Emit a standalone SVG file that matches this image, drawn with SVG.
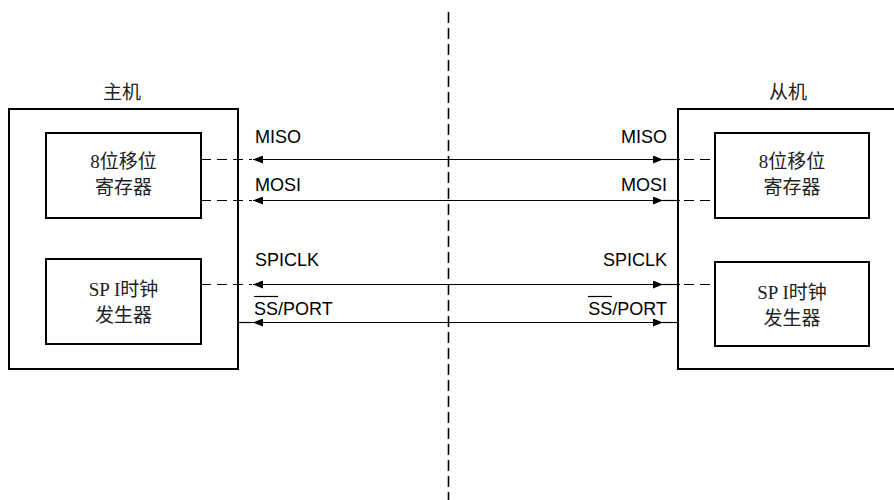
<svg xmlns="http://www.w3.org/2000/svg" width="894" height="500" viewBox="0 0 894 500">
<style>
.box{fill:none;stroke:#000;stroke-width:2}
.cn{font-family:"Liberation Serif","Noto Sans CJK SC",serif;font-size:19px;fill:#222;text-anchor:middle}
.lbl{font-family:"Liberation Sans",Arial,sans-serif;font-size:18px;fill:#000}
.solid{stroke:#000;stroke-width:1.2;fill:none}
.dash{stroke:#000;stroke-width:1.2;fill:none;stroke-dasharray:10 6}
</style>
<defs>
<marker id="arr" viewBox="0 0 10 8" refX="10" refY="4" markerWidth="10" markerHeight="8" markerUnits="userSpaceOnUse" orient="auto-start-reverse">
<path d="M0,0 L10,4 L0,8 z" fill="#000"/>
</marker>
</defs>
<line x1="448.5" y1="12" x2="448.5" y2="500" stroke="#000" stroke-width="1.6" stroke-dasharray="11 5"/>
<g id="master">
<text class="cn" x="122" y="99">主机</text>
<rect class="box" x="9" y="109" width="229" height="260"/>
</g>
<g id="master-shift">
<rect class="box" x="46" y="133" width="155" height="85"/>
<text class="cn" x="123.5" y="168">8位移位</text>
<text class="cn" x="123.5" y="194">寄存器</text>
</g>
<g id="master-clock">
<rect class="box" x="46" y="259" width="155" height="85"/>
<text class="cn" x="123.5" y="296">SP I时钟</text>
<text class="cn" x="123.5" y="322">发生器</text>
</g>
<g id="slave">
<text class="cn" x="788" y="99">从机</text>
<rect class="box" x="678" y="109" width="230" height="260"/>
</g>
<g id="slave-shift">
<rect class="box" x="715" y="133" width="154" height="85"/>
<text class="cn" x="792" y="168">8位移位</text>
<text class="cn" x="792" y="194">寄存器</text>
</g>
<g id="slave-clock">
<rect class="box" x="715" y="262" width="154" height="84"/>
<text class="cn" x="792" y="299">SP I时钟</text>
<text class="cn" x="792" y="325">发生器</text>
</g>
<g id="connectors">
<path class="dash" d="M201,159.5 H252"/>
<path class="solid" d="M253,159.5 H663" marker-start="url(#arr)" marker-end="url(#arr)"/>
<path class="solid" d="M663,159.5 H680"/>
<path class="dash" d="M684,159.5 H715"/>
<text class="lbl" x="255" y="143">MISO</text>
<text class="lbl" x="667" y="143" text-anchor="end">MISO</text>

<path class="dash" d="M201,200.5 H252"/>
<path class="solid" d="M253,200.5 H663" marker-start="url(#arr)" marker-end="url(#arr)"/>
<path class="solid" d="M663,200.5 H680"/>
<path class="dash" d="M684,200.5 H715"/>
<text class="lbl" x="255" y="191">MOSI</text>
<text class="lbl" x="667" y="191" text-anchor="end">MOSI</text>

<path class="dash" d="M201,284.5 H252"/>
<path class="solid" d="M253,284.5 H663" marker-start="url(#arr)" marker-end="url(#arr)"/>
<path class="solid" d="M663,284.5 H680"/>
<path class="dash" d="M684,284.5 H715"/>
<text class="lbl" x="255" y="266">SPICLK</text>
<text class="lbl" x="667" y="266" text-anchor="end">SPICLK</text>

<path class="solid" d="M238,322.5 H253"/>
<path class="solid" d="M253,322.5 H663" marker-start="url(#arr)" marker-end="url(#arr)"/>
<path class="solid" d="M663,322.5 H678"/>
<text class="lbl" x="254" y="315">SS/PORT</text>
<line x1="254" y1="296.5" x2="278" y2="296.5" stroke="#000" stroke-width="1.2"/>
<text class="lbl" x="667" y="315" text-anchor="end">SS/PORT</text>
<line x1="588" y1="296.5" x2="612" y2="296.5" stroke="#000" stroke-width="1.2"/>
</g>
</svg>
